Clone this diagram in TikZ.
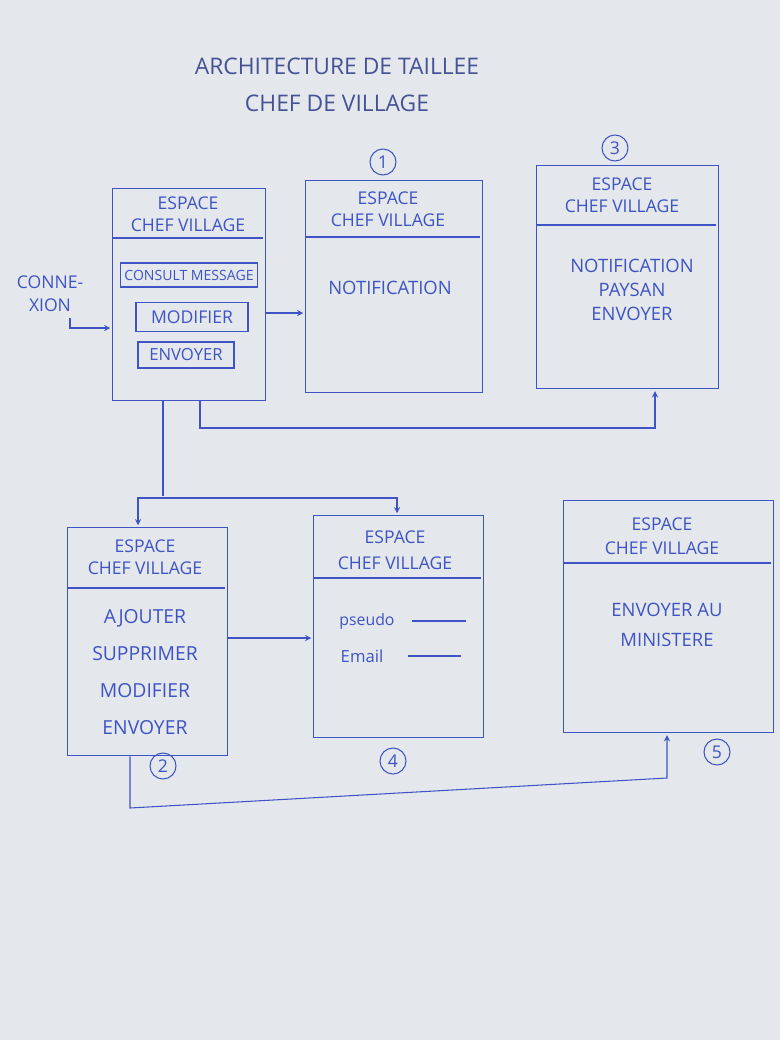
\documentclass[tikz,border=0pt]{standalone}
\usepackage{fontspec}
\setmainfont{Open Sans}
\usetikzlibrary{arrows}
\definecolor{ink}{RGB}{62,84,196}
\definecolor{paper}{RGB}{228,231,235}
\definecolor{titleink}{RGB}{70,82,150}

\begin{document}
\begin{tikzpicture}[
            x = 0.2mm,
            y = -0.2mm,
            > = stealth,
            shorten > = 1pt,
            semithick,
            ink
        ]
        \tikzstyle{box}=[
            draw = ink,
            thick,
            anchor = north west,
            inner sep = 0pt
        ]
        \tikzstyle{head}=[
            align = center,
            font = \fontsize{10}{12.5}\selectfont
        ]
        \tikzstyle{item}=[
            align = center,
            font = \fontsize{10.5}{13.5}\selectfont
        ]
        \tikzstyle{small}=[
            draw = ink,
            inner sep = 2pt,
            font = \fontsize{8}{9}\selectfont
        ]
        \tikzstyle{num}=[
            draw = ink,
            circle,
            minimum size = 5.2mm,
            inner sep = 0pt,
            font = \fontsize{10}{12}\selectfont
        ]
        \fill[paper] (0,0) rectangle (780,1040);
        \useasboundingbox (0,0) rectangle (780,1040);

        \node[titleink, font=\fontsize{13}{15}\selectfont] (t1) at (337,66) {ARCHITECTURE DE TAILLEE};
        \node[titleink, font=\fontsize{13}{15}\selectfont] (t2) at (337,103) {CHEF DE VILLAGE};

        \node[box, minimum width=30.6mm, minimum height=42.4mm] (a) at (112,188) {};
        \node[box, minimum width=35.4mm, minimum height=42.4mm] (n1) at (305,180) {};
        \node[box, minimum width=36.4mm, minimum height=44.6mm] (n3) at (536,165) {};
        \node[box, minimum width=32mm, minimum height=45.6mm] (n2) at (67,527) {};
        \node[box, minimum width=34mm, minimum height=44.4mm] (n4) at (313,515) {};
        \node[box, minimum width=42mm, minimum height=46.4mm] (n5) at (563,500) {};

        \draw[thick] (a.north west) ++(0,50) -- ++(153,0);
        \draw[thick] (n1.north west) ++(0,57) -- ++(177,0);
        \draw[thick] (n3.north west) ++(0,60) -- ++(182,0);
        \draw[thick] (n2.north west) ++(0,61) -- ++(160,0);
        \draw[thick] (n4.north west) ++(0,63) -- ++(170,0);
        \draw[thick] (n5.north west) ++(0,63) -- ++(210,0);

        \node[head] (ha) at (188,214) {ESPACE\\CHEF VILLAGE};
        \node[head] (h1) at (388,209) {ESPACE\\CHEF VILLAGE};
        \node[head] (h3) at (622,195) {ESPACE\\CHEF VILLAGE};
        \node[head] (h2) at (145,557) {ESPACE\\CHEF VILLAGE};
        \node[head, font=\fontsize{10}{14.5}\selectfont] (h4) at (395,550) {ESPACE\\CHEF VILLAGE};
        \node[head, font=\fontsize{10}{13.5}\selectfont] (h5) at (662,536) {ESPACE\\CHEF VILLAGE};

        \node[small, minimum width=26.4mm, minimum height=4.8mm] (consult) at (189,275) {CONSULT MESSAGE};
        \node[small, minimum width=22.4mm, minimum height=5.8mm, font=\fontsize{10}{12}\selectfont] (modif) at (192,317) {MODIFIER};
        \node[small, minimum width=19.2mm, minimum height=5.2mm, font=\fontsize{9.5}{11}\selectfont] (envoi) at (186,355) {ENVOYER};

        \node[item] (notif) at (390,288) {NOTIFICATION};
        \node[item, font=\fontsize{10.5}{13.6}\selectfont] (notifp) at (632,290) {NOTIFICATION\\PAYSAN\\ENVOYER};
        \node[item, font=\fontsize{11}{21}\selectfont] (actions) at (145,672) {AJOUTER\\SUPPRIMER\\MODIFIER\\ENVOYER};
        \node[item, font=\fontsize{9}{11}\selectfont] (pseudo) at (367,621) {pseudo};
        \node[item, font=\fontsize{9.5}{11}\selectfont] (email) at (362,656) {Email};
        \draw (412,621) -- (468,621);
        \draw (408,656) -- (463,656);
        \node[item, font=\fontsize{10.5}{17}\selectfont] (minist) at (667,625) {ENVOYER AU\\MINISTERE};

        \node[num] (c1) at (383,162) {1};
        \node[num] (c3) at (615,148) {3};
        \node[num] (c2) at (163,766) {2};
        \node[num] (c4) at (393,761) {4};
        \node[num] (c5) at (717,752) {5};

        \node[align=center, font=\fontsize{10}{13}\selectfont] (connex) at (50,294) {CONNE-\\XION};
        \coordinate (cx) at (70,328);
        \draw[->] (connex.south -| cx) -- (cx) -- (a.west |- cx);

        \draw[->] (a.east |- 0,313) -- (n1.west |- 0,313);

        \coordinate (j1) at (200,428);
        \coordinate (j2) at (655,428);
        \draw[->] (a.south -| j1) -- (j1) -- (j2) -- (n3.south -| j2);

        \coordinate (s) at (163,498);
        \coordinate (s1) at (138,498);
        \coordinate (s2) at (397,498);
        \draw (a.south -| s) -- (s);
        \draw[->] (s) -- (s1) -- (n2.north -| s1);
        \draw[->] (s) -- (s2) -- (n4.north -| s2);

        \draw[->] (n2.east |- 0,638) -- (n4.west |- 0,638);

        \coordinate (b1) at (130,808);
        \coordinate (b2) at (667,778);
        \draw[->] (n2.south -| b1) -- (b1) -- (b2) -- (n5.south -| b2);
\end{tikzpicture}
\end{document}
